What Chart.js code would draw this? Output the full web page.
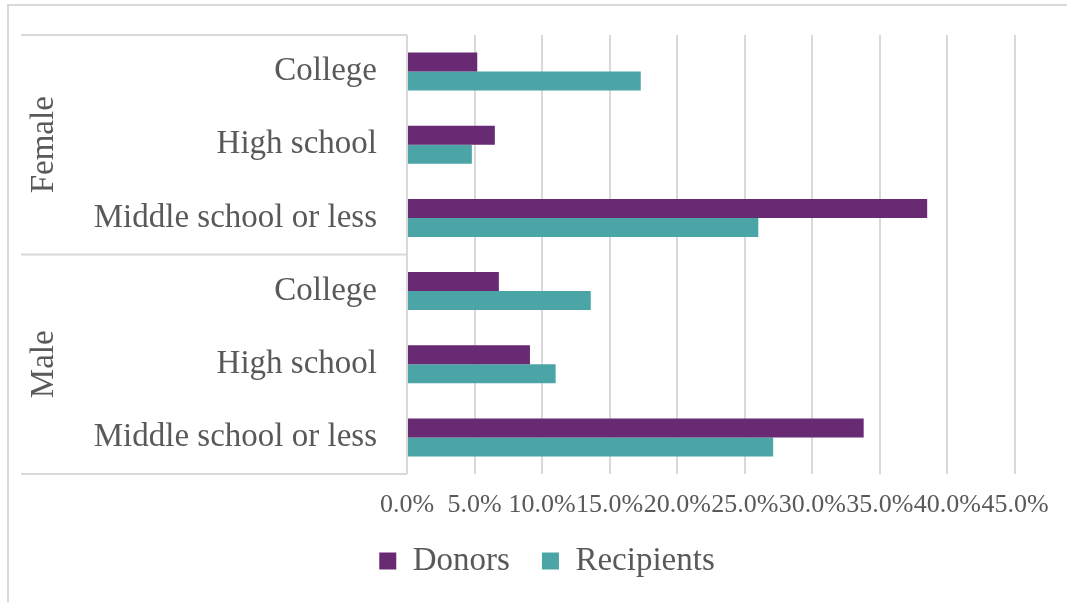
<!DOCTYPE html>
<html>
<head>
<meta charset="utf-8">
<script src="https://cdn.jsdelivr.net/npm/chart.js@4"></script>
<style>
  html, body { margin: 0; padding: 0; background: #ffffff; overflow: hidden; }
  #wrap { position: absolute; left: 0; top: 0; width: 1067px; height: 602px; }
</style>
</head>
<body>
<div id="wrap"><canvas id="c" width="1067" height="602"></canvas></div>
<script>
const categories = ['College', 'High school', 'Middle school or less', 'College', 'High school', 'Middle school or less'];
const groups = ['Female', 'Male'];
const groupSizes = [3, 3];
const donors = [5.2, 6.5, 38.5, 6.8, 9.1, 33.8];
const recipients = [17.3, 4.8, 26.0, 13.6, 11.0, 27.1];
const xTicks = [0, 5, 10, 15, 20, 25, 30, 35, 40, 45];

const FONT = 'Liberation Serif';
const TEXT = '#595959';
const LINE = '#d9d9d9';

const framePlugin = {
  id: 'framePlugin',
  afterDraw(chart) {
    const ctx = chart.ctx;
    const area = chart.chartArea;
    ctx.save();
    ctx.strokeStyle = LINE;
    ctx.lineWidth = 2;
    // outer frame
    ctx.beginPath();
    ctx.moveTo(8, chart.height + 5);
    ctx.lineTo(8, 5);
    ctx.lineTo(chart.width + 5, 5);
    ctx.stroke();
    // group table lines
    const rowH = (area.bottom - area.top) / categories.length;
    let idx = 0;
    const bounds = [area.top];
    groupSizes.forEach(n => { idx += n; bounds.push(area.top + rowH * idx); });
    ctx.beginPath();
    bounds.forEach(b => { ctx.moveTo(21, b); ctx.lineTo(area.left, b); });
    ctx.stroke();
    // group labels
    ctx.fillStyle = TEXT;
    ctx.font = '33px "' + FONT + '"';
    ctx.textAlign = 'center';
    ctx.textBaseline = 'middle';
    groups.forEach((g, i) => {
      const cy = (bounds[i] + bounds[i + 1]) / 2;
      ctx.save();
      ctx.translate(44, cy);
      ctx.rotate(-Math.PI / 2);
      ctx.fillText(g, 0, 0);
      ctx.restore();
    });
    ctx.restore();
  }
};

new Chart(document.getElementById('c'), {
  type: 'bar',
  data: {
    labels: categories,
    datasets: [
      { label: 'Donors', data: donors, backgroundColor: '#672a73', borderWidth: 0,
        categoryPercentage: 0.52, barPercentage: 1.0 },
      { label: 'Recipients', data: recipients, backgroundColor: '#4ba4a6', borderWidth: 0,
        categoryPercentage: 0.52, barPercentage: 1.0 }
    ]
  },
  options: {
    indexAxis: 'y',
    responsive: false,
    animation: false,
    layout: { padding: { top: 35, left: 79, right: 52, bottom: 14.5 } },
    scales: {
      x: {
        min: 0, max: 45,
        afterBuildTicks(scale) { scale.ticks = xTicks.map(v => ({ value: v })); },
        afterFit(scale) { scale.height = 38.5; },
        grid: { color: LINE, lineWidth: 2, drawTicks: false },
        border: { display: false },
        ticks: {
          padding: 16,
          color: TEXT,
          font: { family: FONT, size: 26 },
          maxRotation: 0,
          autoSkip: false,
          callback: v => Number(v).toFixed(1) + '%'
        }
      },
      y: {
        afterFit(scale) { scale.width = 328; },
        grid: { display: true, drawOnChartArea: false, drawTicks: true, tickLength: 30, color: 'rgba(0,0,0,0)' },
        border: { display: false },
        ticks: {
          padding: 0,
          color: TEXT,
          font: { family: FONT, size: 33 },
          autoSkip: false
        }
      }
    },
    plugins: {
      legend: {
        position: 'bottom',
        labels: {
          boxWidth: 17,
          boxHeight: 17,
          padding: 32,
          color: TEXT,
          font: { family: FONT, size: 33 }
        }
      },
      tooltip: { enabled: false }
    }
  },
  plugins: [framePlugin]
});
</script>
</body>
</html>
